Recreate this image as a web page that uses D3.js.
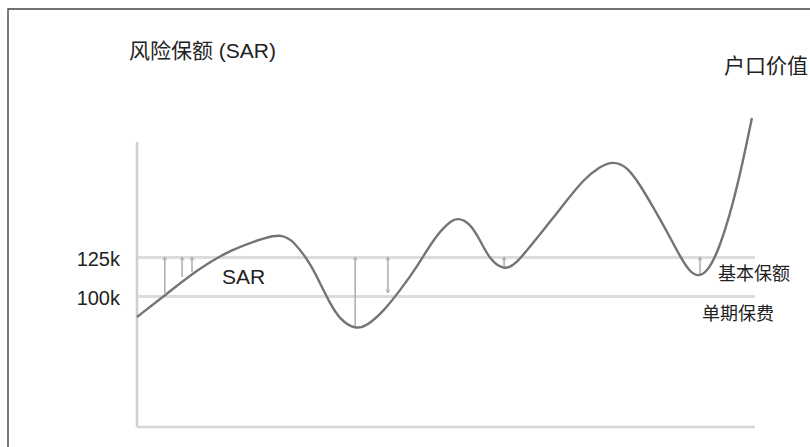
<!DOCTYPE html>
<html>
<head>
<meta charset="utf-8">
<script src="https://cdn.jsdelivr.net/npm/d3@7/dist/d3.min.js"></script>
<style>
  html, body { margin: 0; padding: 0; background: #fff; }
  svg { display: block; }
  text { font-family: "Liberation Sans", Arial, "Noto Sans CJK SC", sans-serif; fill: #222; }
</style>
</head>
<body>
<svg id="chart" width="810" height="447"></svg>
<script>
// ---- data ----
const curveX = [0, 4.2, 9.7, 15.0, 21.5, 23.5, 25.2, 28.0, 29.6, 31.2, 32.8, 35.3, 37.2, 39.8, 42.6, 45.3, 47.9, 50.2, 51.9, 53.9, 55.5, 57.1, 59.4, 61.2, 64.1, 66.8, 69.6, 72.2, 74.9, 77.0, 79.3, 81.4, 83.5, 85.8, 87.9, 89.5, 91.1, 92.7, 94.3, 96.4, 98.1, 99.5];
const curveY = [86.5, 99.4, 116.7, 129.5, 138.5, 139.0, 135.9, 121.2, 108.3, 95.5, 85.0, 78.5, 80.8, 89.7, 103.8, 118.6, 135.9, 146.5, 150.6, 146.5, 135.9, 123.1, 116.5, 119.9, 134.0, 147.4, 161.5, 174.4, 183.0, 186.5, 183.0, 171.2, 157.1, 141.0, 125.0, 115.0, 112.0, 117.9, 131.4, 158.3, 187.2, 214.1];
const tickValues = [100, 125];
const tickLabels = ["100k", "125k"];
const sarX = [4.5, 7.3, 8.9, 35.3, 40.6, 59.4, 91.1];
const sarFrom = [125, 125, 125, 125, 125, 125, 125];
const sarTo = [101.9, 112.2, 115.4, 79.5, 101.9, 117.3, 112.8];
const sarDoubleHead = [false, false, false, false, true, false, false];
const titleText = "风险保额 (SAR)";
const valueLabel = "户口价值";
const sarLabel = "SAR";
const baseLabel = "基本保额";
const premiumLabel = "单期保费";

// ---- layout ----
const svg = d3.select("#chart");
const x = d3.scaleLinear().domain([0, 100]).range([137, 755]);
const y = d3.scaleLinear().domain([16, 198.7]).range([427, 142]);

// outer frame (left and top edges)
svg.append("path")
  .attr("d", "M8,447 L8,9 L810,9")
  .attr("fill", "none").attr("stroke", "#444").attr("stroke-width", 1.4);

// grid lines + tick labels
const yAxis = d3.axisLeft(y)
  .tickValues(tickValues)
  .tickFormat((d, i) => tickLabels[i])
  .tickSize(-(x.range()[1] - x.range()[0]))
  .tickPadding(17);
const gy = svg.append("g").attr("transform", `translate(${x.range()[0]},0)`).call(yAxis);
gy.select(".domain").remove();
gy.selectAll(".tick line").attr("stroke", "#dcdcdc").attr("stroke-width", 3);
gy.selectAll(".tick text")
  .attr("font-size", 20).attr("fill", "#222").attr("dy", "0.45em")
  .style("font-family", "'Liberation Sans', Arial, sans-serif");

// axis lines
svg.append("line")
  .attr("x1", x.range()[0]).attr("x2", x.range()[0])
  .attr("y1", y.range()[1]).attr("y2", y.range()[0])
  .attr("stroke", "#cfcfcf").attr("stroke-width", 2.5);
svg.append("line")
  .attr("x1", x.range()[0]).attr("x2", x.range()[1])
  .attr("y1", y.range()[0]).attr("y2", y.range()[0])
  .attr("stroke", "#d6d6d6").attr("stroke-width", 2.5);

// arrow markers
const defs = svg.append("defs");
defs.append("marker").attr("id", "ah").attr("viewBox", "0 0 10 10")
  .attr("refX", 9).attr("refY", 5).attr("markerWidth", 5).attr("markerHeight", 5)
  .attr("orient", "auto-start-reverse").attr("markerUnits", "userSpaceOnUse")
  .append("path").attr("d", "M2,1 L9,5 L2,9").attr("fill", "none")
  .attr("stroke", "#a8a8a8").attr("stroke-width", 1.8);

// SAR arrows
svg.append("g").selectAll("line").data(sarX).join("line")
  .attr("x1", d => x(d)).attr("x2", d => x(d))
  .attr("y1", (d, i) => y(sarFrom[i])).attr("y2", (d, i) => y(sarTo[i]))
  .attr("stroke", "#b0b0b0").attr("stroke-width", 1.6)
  .attr("marker-start", "url(#ah)")
  .attr("marker-end", (d, i) => sarDoubleHead[i] ? "url(#ah)" : null);

// value curve
const pts = curveX.map((d, i) => [d, curveY[i]]);
svg.append("path")
  .datum(pts)
  .attr("fill", "none")
  .attr("stroke", "#747474")
  .attr("stroke-width", 2.4)
  .attr("d", d3.line().x(d => x(d[0])).y(d => y(d[1])).curve(d3.curveBasis));

// texts
svg.append("text").attr("x", 129).attr("y", 50).attr("dominant-baseline", "central")
  .attr("font-size", 21).text(titleText);
svg.append("text").attr("x", 808).attr("y", 65).attr("dominant-baseline", "central")
  .attr("text-anchor", "end").attr("font-size", 21).text(valueLabel);
svg.append("text").attr("x", 222).attr("y", 276).attr("dominant-baseline", "central")
  .attr("font-size", 21).text(sarLabel);
svg.append("text").attr("x", 718).attr("y", 274).attr("dominant-baseline", "central")
  .attr("font-size", 18).text(baseLabel);
svg.append("text").attr("x", 702).attr("y", 314).attr("dominant-baseline", "central")
  .attr("font-size", 18).text(premiumLabel);
</script>
</body>
</html>
